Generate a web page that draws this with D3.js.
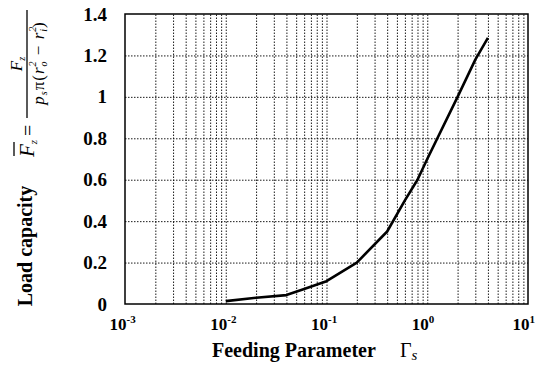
<!DOCTYPE html>
<html>
<head>
<meta charset="utf-8">
<script src="https://cdn.jsdelivr.net/npm/d3@7"></script>
<style>
  body { margin: 0; background: #fff; }
  text { font-family: "Liberation Serif", "Times New Roman", serif; fill: #000; }
</style>
</head>
<body>
<div id="chart"></div>
<script>
// Data
const gammaS  = [0.01, 0.02, 0.04, 0.06, 0.1, 0.2, 0.4, 0.6, 0.8, 1, 2, 3, 4];
const loadCap = [0.014, 0.03, 0.043, 0.072, 0.11, 0.2, 0.35, 0.5, 0.6, 0.7, 1.0, 1.18, 1.285];

const yTicks      = [0, 0.2, 0.4, 0.6, 0.8, 1, 1.2, 1.4];
const yTickLabels = ["0", "0.2", "0.4", "0.6", "0.8", "1", "1.2", "1.4"];
const xDecades    = [1e-3, 1e-2, 1e-1, 1, 10];
const xExponents  = ["-3", "-2", "-1", "0", "1"];

const serif = '"Liberation Serif", "Times New Roman", serif';

const W = 541, H = 367;
const margin = { top: 14, right: 13, bottom: 63, left: 125 };
const width = W - margin.left - margin.right;
const height = H - margin.top - margin.bottom;

const svg = d3.select("#chart").append("svg")
  .attr("width", W)
  .attr("height", H)
  .attr("font-family", serif);

const g = svg.append("g")
  .attr("transform", `translate(${margin.left},${margin.top})`);

// Scales
const x = d3.scaleLog().domain([1e-3, 10]).range([0, width]);
const y = d3.scaleLinear().domain([0, 1.4]).range([height, 0]);

// minor grid values 1..9 per decade
let gridX = [];
xDecades.slice(0, -1).forEach(d => {
  for (let k = 1; k <= 9; k++) gridX.push(d * k);
});
gridX = gridX.filter(v => v > 1e-3);

// Vertical grid
g.append("g")
  .attr("class", "grid-x")
  .attr("transform", `translate(0,${height})`)
  .call(d3.axisBottom(x).tickValues(gridX).tickSize(-height).tickFormat(""))
  .call(s => s.select(".domain").remove())
  .selectAll("line")
    .attr("stroke", "#000")
    .attr("stroke-width", 0.9)
    .attr("stroke-dasharray", "1.5,1.5");

// Horizontal grid
g.append("g")
  .attr("class", "grid-y")
  .call(d3.axisLeft(y).tickValues(yTicks.slice(1, -1)).tickSize(-width).tickFormat(""))
  .call(s => s.select(".domain").remove())
  .selectAll("line")
    .attr("stroke", "#000")
    .attr("stroke-width", 0.9)
    .attr("stroke-dasharray", "1.5,1.5");

// Y axis labels
g.append("g")
  .attr("class", "y-axis")
  .call(d3.axisLeft(y).tickValues(yTicks).tickSize(0).tickPadding(18)
    .tickFormat((d, i) => yTickLabels[i]))
  .attr("font-family", serif)
  .attr("font-size", 19)
  .attr("font-weight", "bold")
  .call(s => s.select(".domain").remove());

// X axis labels with superscripts
const xAxisG = g.append("g")
  .attr("class", "x-axis")
  .attr("transform", `translate(0,${height})`)
  .call(d3.axisBottom(x).tickValues(xDecades).tickSize(0))
  .attr("font-family", serif)
  .attr("font-size", 17)
  .attr("font-weight", "bold")
  .call(s => s.select(".domain").remove());

xAxisG.selectAll("text")
  .attr("y", 26)
  .attr("dy", 0)
  .attr("x", -16)
  .attr("text-anchor", "start")
  .each(function(d, i) {
    const t = d3.select(this).text("");
    t.append("tspan").text("10");
    t.append("tspan").attr("font-size", "11px").attr("dy", -7).text(xExponents[i]);
  });

// Frame
g.append("rect")
  .attr("width", width)
  .attr("height", height)
  .attr("fill", "none")
  .attr("stroke", "#000")
  .attr("stroke-width", 1.5);

// Curve
const line = d3.line()
  .x((d, i) => x(gammaS[i]))
  .y(d => y(d));

g.append("path")
  .datum(loadCap)
  .attr("fill", "none")
  .attr("stroke", "#000")
  .attr("stroke-width", 2.6)
  .attr("stroke-linejoin", "round")
  .attr("d", line);

// X axis title
svg.append("text")
  .attr("x", 212)
  .attr("y", 357)
  .attr("font-size", "20px")
  .attr("font-weight", "bold")
  .text("Feeding Parameter");

const gam = svg.append("text")
  .attr("x", 400)
  .attr("y", 357)
  .attr("font-size", "20px");
gam.append("tspan").text("Γ");
gam.append("tspan").attr("font-size", "15px").attr("font-style", "italic").attr("dy", 3).text("s");

// Y axis title
svg.append("text")
  .attr("transform", "translate(32,246) rotate(-90)")
  .attr("text-anchor", "middle")
  .attr("font-size", "20px")
  .attr("font-weight", "bold")
  .text("Load capacity");

// Formula (rotated)
const f = svg.append("g")
  .attr("transform", "translate(27,157) rotate(-90)");

const fz = f.append("text").attr("x", 0).attr("y", 7).attr("font-size", "21px").attr("font-style", "italic");
fz.append("tspan").text("F");
fz.append("tspan").attr("font-size", "11px").attr("dy", 3).text("z");
f.append("line")
  .attr("x1", 1).attr("x2", 15).attr("y1", -13).attr("y2", -13)
  .attr("stroke", "#000").attr("stroke-width", 1.3);

f.append("text").attr("x", 21).attr("y", 8).attr("font-size", "20px").text("=");

f.append("line")
  .attr("x1", 39).attr("x2", 147).attr("y1", 0).attr("y2", 0)
  .attr("stroke", "#000").attr("stroke-width", 1.3);

const num = f.append("text").attr("x", 93).attr("y", -5)
  .attr("text-anchor", "middle").attr("font-size", "17px").attr("font-style", "italic");
num.append("tspan").text("F");
num.append("tspan").attr("font-size", "10px").attr("dy", 3).text("z");

const den = f.append("text").attr("x", 94).attr("y", 17)
  .attr("text-anchor", "middle").attr("font-size", "17px").attr("font-style", "italic")
  .attr("letter-spacing", 1);
den.append("tspan").text("p");
den.append("tspan").attr("font-size", "10px").attr("dy", 3).text("s");
den.append("tspan").attr("dy", -3).attr("font-style", "normal").text("π(");
den.append("tspan").text("r");
den.append("tspan").attr("font-size", "10px").attr("dy", -8).text("2");
den.append("tspan").attr("font-size", "10px").attr("dy", 11).attr("dx", -6).text("o");
den.append("tspan").attr("dy", -3).attr("font-style", "normal").text(" − ");
den.append("tspan").text("r");
den.append("tspan").attr("font-size", "10px").attr("dy", -8).text("2");
den.append("tspan").attr("font-size", "10px").attr("dy", 11).attr("dx", -6).text("i");
den.append("tspan").attr("dy", -3).attr("font-style", "normal").text(")");
</script>
</body>
</html>
